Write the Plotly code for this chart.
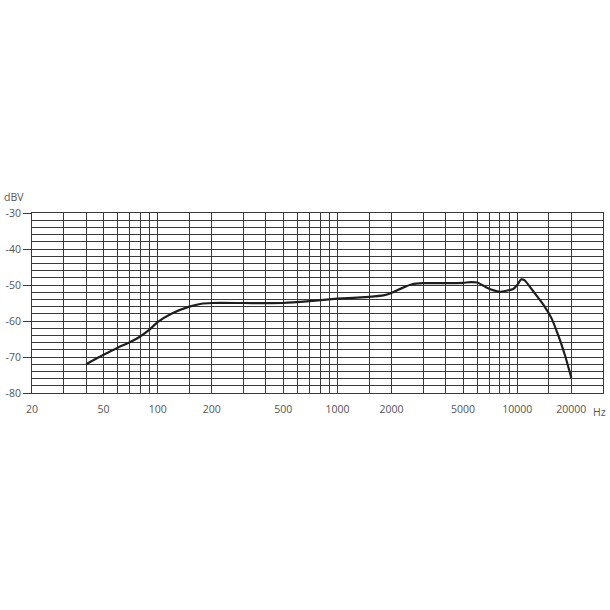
import numpy as np
import plotly.graph_objects as go

# frequency response
freq_hz = [40, 50, 60, 70, 80, 90, 100, 120, 150, 175, 200, 300, 500, 700, 1000,
           1500, 1800, 2000, 2300, 2600, 3000, 4000, 5000, 5500, 6000, 6700, 7400,
           8000, 8700, 9500, 10000, 10500, 11000, 12300, 14000, 15500, 17000,
           18500, 20000]
level_dbv = [-72.0, -69.4, -67.4, -65.9, -64.3, -62.4, -60.3, -57.9, -56.0, -55.2,
             -55.0, -55.0, -55.0, -54.5, -53.8, -53.3, -52.9, -52.2, -50.8, -49.8,
             -49.5, -49.5, -49.4, -49.2, -49.3, -50.6, -51.5, -51.9, -51.6, -51.1,
             -50.0, -48.5, -48.7, -51.8, -55.5, -59.2, -64.3, -69.8, -75.8]

# vertical grid lines and which of them carry a label
x_grid = [20, 30, 40, 50, 60, 70, 80, 90, 100, 150, 200, 300, 400, 500, 600, 700,
          800, 900, 1000, 1500, 2000, 3000, 4000, 5000, 6000, 7000, 8000, 9000,
          10000, 15000, 20000]
x_labels = [20, 50, 100, 200, 500, 1000, 2000, 5000, 10000, 20000]
y_ticks = [-30, -40, -50, -60, -70, -80]

GRID = "#3a3a3a"
TEXT = "#555555"

fig = go.Figure()
fig.add_trace(go.Scatter(
    x=freq_hz,
    y=level_dbv,
    mode="lines",
    line=dict(color="#1e1e1e", width=2.2, shape="spline", smoothing=0.5),
    showlegend=False,
    hoverinfo="skip",
))

fig.update_layout(
    width=610,
    height=610,
    margin=dict(l=32, r=7, t=213, b=217),
    paper_bgcolor="white",
    plot_bgcolor="white",
    font=dict(family="Open Sans, Liberation Sans, sans-serif", size=10.5, color=TEXT),
    xaxis=dict(
        type="log",
        range=[np.log10(20), np.log10(30000)],
        tickmode="array",
        tickvals=x_grid,
        ticktext=[str(v) if v in x_labels else "" for v in x_grid],
        ticklabelstandoff=6,
        showgrid=True,
        gridcolor=GRID,
        gridwidth=1,
        showline=True,
        linecolor=GRID,
        linewidth=1,
        mirror=True,
        ticks="",
        zeroline=False,
        automargin=False,
    ),
    yaxis=dict(
        range=[-80, -30],
        tickmode="array",
        tickvals=y_ticks,
        ticktext=[str(v) for v in y_ticks],
        ticks="outside",
        ticklen=8,
        tickcolor=GRID,
        showgrid=True,
        gridcolor=GRID,
        gridwidth=1,
        minor=dict(dtick=2, showgrid=True, gridcolor=GRID, gridwidth=1, ticks=""),
        showline=True,
        linecolor=GRID,
        linewidth=1,
        mirror=True,
        zeroline=False,
        automargin=False,
    ),
    annotations=[
        dict(text="dBV", xref="paper", yref="paper", x=0.0, y=1.0,
             xanchor="left", yanchor="bottom", xshift=-30, yshift=7, showarrow=False,
             font=dict(size=10.5, color=TEXT)),
        dict(text="Hz", xref="paper", yref="paper", x=1.0, y=0.0,
             xanchor="right", yanchor="top", yshift=-10, xshift=5, showarrow=False,
             font=dict(size=10.5, color=TEXT)),
    ],
)

# drop the default page margin so the 610px figure fills the window exactly
fig.write_html("out.html", config={"displayModeBar": False},
               post_script="document.body.style.margin='0';")
